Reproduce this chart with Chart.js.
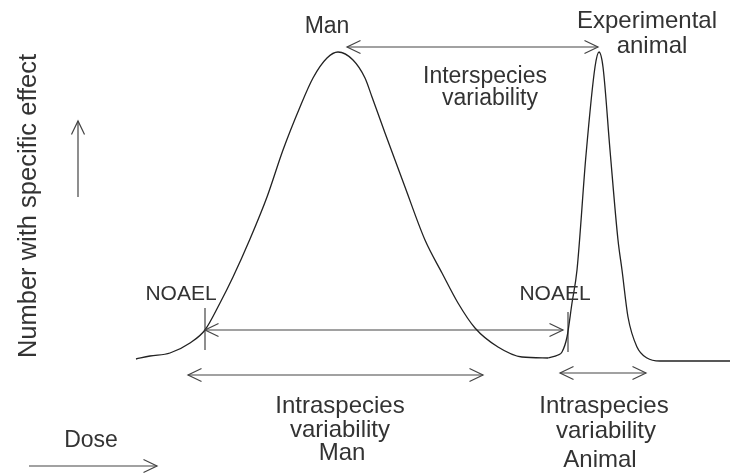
<!DOCTYPE html>
<html>
<head>
<meta charset="utf-8">
<script src="https://cdn.jsdelivr.net/npm/chart.js@4/dist/chart.umd.min.js"></script>
<style>
    html, body { margin: 0; padding: 0; background: #fff; }
    #wrap { width: 730px; height: 475px; }
</style>
</head>
<body>
<div id="wrap"><canvas id="doseChart" width="730" height="475"></canvas></div>
<script>
// Dose (x) vs number with specific effect (y), arbitrary units
const manDose = [136, 150, 170, 190, 205, 220, 233, 250, 267, 283, 300, 313, 327, 338, 353, 365, 372, 385, 405, 425, 442, 458, 475, 498, 522, 548];
const manCount = [116, 119, 122, 132, 145, 172, 198, 236, 278, 325, 368, 397, 417, 423, 415, 397, 378, 342, 288, 235, 202, 172, 147, 128, 118, 117];

const animalDose = [548, 558, 562, 567, 572, 577, 586, 595, 599, 603, 610, 618, 622, 628, 637, 647, 660, 730];
const animalCount = [117, 120, 123, 138, 172, 205, 320, 408, 423, 408, 325, 235, 205, 158, 128, 117, 114, 114];

// arrows: [x1, y1, x2, y2, headAtStart, headAtEnd]
const arrows = [
    [78, 278, 78, 354, false, true],      // number axis
    [347, 428, 598, 428, true, true],     // interspecies
    [205, 145, 563, 145, true, true],     // NOAEL to NOAEL
    [188, 100, 483, 100, true, true],     // intraspecies man
    [560, 102, 646, 102, true, true],     // intraspecies animal
    [29, 9, 157, 9, false, true]          // dose axis
];

// NOAEL markers
const noaelDose = [205, 568];
const noaelTop = [167, 163];
const noaelBottom = [125, 123];

// labels: [text, x, y(baseline), size]
const labels = [
    ['Man', 327, 442, 23],
    ['Experimental', 647, 447, 24],
    ['animal', 652, 422, 24],
    ['Interspecies', 485, 392, 23],
    ['variability', 490, 370, 23],
    ['NOAEL', 181, 175, 21],
    ['NOAEL', 555, 175, 21],
    ['Intraspecies', 340, 62, 24],
    ['variability', 340, 38, 24],
    ['Man', 342, 15, 24],
    ['Intraspecies', 604, 62, 24],
    ['variability', 606, 37, 24],
    ['Animal', 600, 8, 24],
    ['Dose', 91, 28, 23]
];
const yTitle = ['Number with specific effect', 36, 269, 25.5];

const LINE = '#222';
const ARROW = '#444';
const TEXT = '#333';
const FONT = '"Liberation Sans", Arial, sans-serif';

function pts(xs, ys) {
    return xs.map((x, i) => ({ x: x, y: ys[i] }));
}

function segDataset(data, color) {
    return {
        data: data,
        showLine: true,
        borderColor: color,
        borderWidth: 1.2,
        pointRadius: 0,
        tension: 0
    };
}

const datasets = [
    {
        label: 'Man',
        data: pts(manDose, manCount),
        showLine: true,
        borderColor: LINE,
        borderWidth: 1.3,
        pointRadius: 0,
        cubicInterpolationMode: 'monotone'
    },
    {
        label: 'Experimental animal',
        data: pts(animalDose, animalCount),
        showLine: true,
        borderColor: LINE,
        borderWidth: 1.3,
        pointRadius: 0,
        cubicInterpolationMode: 'monotone'
    }
];
arrows.forEach(a => datasets.push(segDataset([{ x: a[0], y: a[1] }, { x: a[2], y: a[3] }], ARROW)));
noaelDose.forEach((d, i) => datasets.push(segDataset([{ x: d, y: noaelBottom[i] }, { x: d, y: noaelTop[i] }], ARROW)));

function drawHead(ctx, tx, ty, fx, fy) {
    const ang = Math.atan2(ty - fy, tx - fx);
    const len = 15, spread = 0.45;
    ctx.beginPath();
    ctx.moveTo(tx - len * Math.cos(ang - spread), ty - len * Math.sin(ang - spread));
    ctx.lineTo(tx, ty);
    ctx.lineTo(tx - len * Math.cos(ang + spread), ty - len * Math.sin(ang + spread));
    ctx.stroke();
}

const annotationPlugin = {
    id: 'annotations',
    afterDatasetsDraw(chart) {
        const ctx = chart.ctx;
        const sx = chart.scales.x, sy = chart.scales.y;
        ctx.save();
        ctx.strokeStyle = ARROW;
        ctx.lineWidth = 1.2;
        arrows.forEach(a => {
            const x1 = sx.getPixelForValue(a[0]), y1 = sy.getPixelForValue(a[1]);
            const x2 = sx.getPixelForValue(a[2]), y2 = sy.getPixelForValue(a[3]);
            if (a[4]) drawHead(ctx, x1, y1, x2, y2);
            if (a[5]) drawHead(ctx, x2, y2, x1, y1);
        });

        ctx.fillStyle = TEXT;
        ctx.textAlign = 'center';
        ctx.textBaseline = 'alphabetic';
        labels.forEach(l => {
            ctx.font = l[3] + 'px ' + FONT;
            ctx.fillText(l[0], sx.getPixelForValue(l[1]), sy.getPixelForValue(l[2]));
        });

        ctx.translate(sx.getPixelForValue(yTitle[1]), sy.getPixelForValue(yTitle[2]));
        ctx.rotate(-Math.PI / 2);
        ctx.font = yTitle[3] + 'px ' + FONT;
        ctx.fillText(yTitle[0], 0, 0);
        ctx.restore();
    }
};

new Chart(document.getElementById('doseChart').getContext('2d'), {
    type: 'scatter',
    data: { datasets: datasets },
    options: {
        responsive: false,
        animation: false,
        layout: { padding: 0 },
        scales: {
            x: { type: 'linear', min: 0, max: 730, display: false },
            y: { type: 'linear', min: 0, max: 475, display: false }
        },
        plugins: { legend: { display: false }, tooltip: { enabled: false } }
    },
    plugins: [annotationPlugin]
});
</script>
</body>
</html>
